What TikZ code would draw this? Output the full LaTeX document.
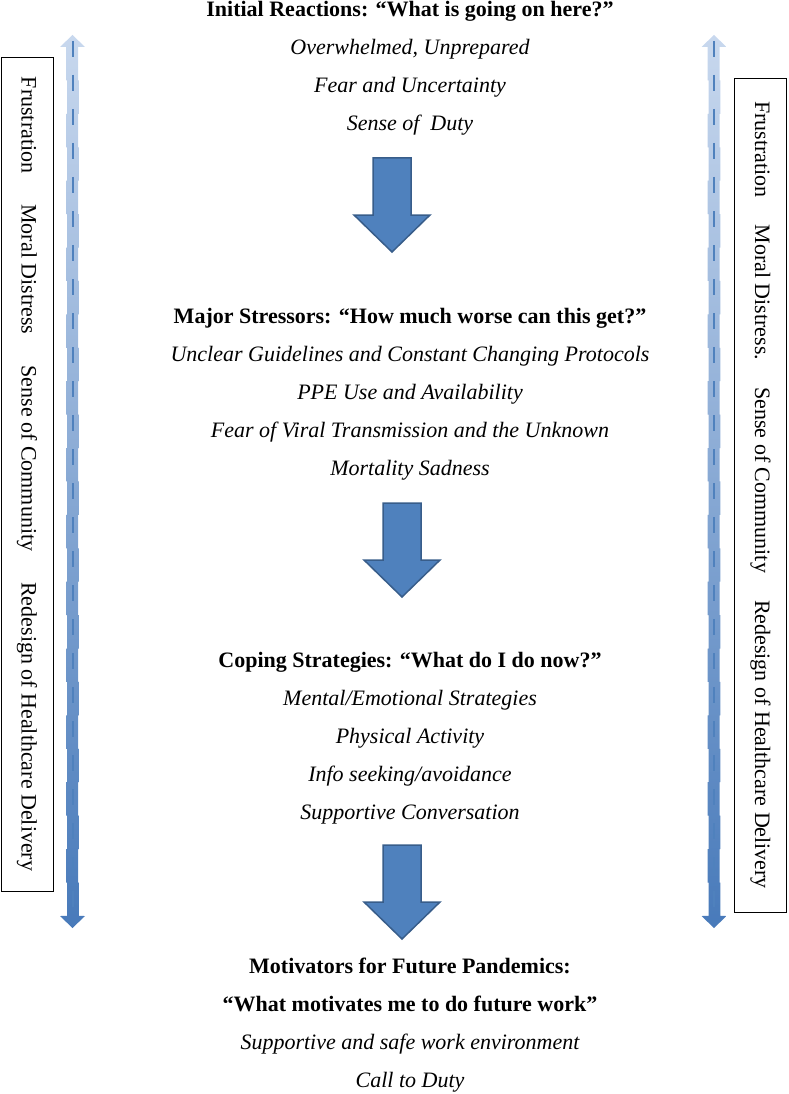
\documentclass[tikz,border=0pt]{standalone}
\usepackage{fontspec}
\setmainfont{Liberation Serif}
\usetikzlibrary{positioning}

\definecolor{arrowfill}{RGB}{79,129,189}
\definecolor{arrowedge}{RGB}{56,93,138}
\definecolor{sidetop}{RGB}{200,216,238}
\definecolor{sidebot}{RGB}{72,122,186}

\begin{document}
\begin{tikzpicture}[x=1pt, y=-1pt,
    heading/.style={font=\fontsize{22}{26}\selectfont\bfseries, anchor=base},
    entry/.style={font=\fontsize{22}{26}\selectfont\itshape, anchor=base},
    sidebox/.style={draw, line width=0.8pt, rotate=-90, minimum width=834pt, minimum height=52pt, inner sep=0pt, font=\fontsize{22}{26}\selectfont},
    downarrow/.style={fill=arrowfill, draw=arrowedge, line width=1.5pt, line join=miter},
    sidearrow/.style={top color=sidetop, bottom color=sidebot},
    sidedash/.style={arrowfill, line width=2pt, dash pattern=on 16pt off 18pt},
]
\useasboundingbox (0,0) rectangle (788,1094);

% === Side arrows (both ways), shaft made of slightly shifted pieces ===
\foreach \sx in {72.5, 714} {
    \shade[sidearrow] (\sx-12.5,47) -- (\sx,35) -- (\sx+12.5,47)
        \foreach \k in {0,...,25} { -- ({\sx+5.5+0.9*mod(\k,2)}, 47+33.42*\k) -- ({\sx+5.5+0.9*mod(\k,2)}, 47+33.42*\k+33.42) }
        -- (\sx+12.5,916) -- (\sx,928) -- (\sx-12.5,916)
        \foreach \k in {25,...,0} { -- ({\sx-5.5-0.9*mod(\k+1,2)}, 47+33.42*\k+33.42) -- ({\sx-5.5-0.9*mod(\k+1,2)}, 47+33.42*\k) }
        -- cycle;
    \draw[sidedash] (\sx,41) -- (\sx,920);
}

% === Side boxes ===
\node[sidebox] (leftbox) at (27,474)
    {Frustration\hspace{31pt}Moral Distress\hspace{31pt}Sense of Community\hspace{31pt}Redesign of Healthcare Delivery};
\node[sidebox] (rightbox) at (760.5,495)
    {Frustration\hspace{27pt}Moral Distress.\hspace{27pt}Sense of Community\hspace{27pt}Redesign of Healthcare Delivery};

% === Initial Reactions ===
\node[heading] (react) at (410,17) {Initial Reactions: “What is going on here?”};
\foreach \txt [count=\i] in {{Overwhelmed, Unprepared}, {Fear and Uncertainty}, {Sense of~ Duty}}
    \node[entry] (react-\i) at (410,17+38*\i) {\txt};

% === Major Stressors ===
\node[heading] (stress) at (410,323) {Major Stressors: “How much worse can this get?”};
\foreach \txt [count=\i] in {{Unclear Guidelines and Constant Changing Protocols}, {PPE Use and Availability},
        {Fear of Viral Transmission and the Unknown}, {Mortality Sadness}}
    \node[entry] (stress-\i) at (410,323+38*\i) {\txt};

% === Coping Strategies ===
\node[heading] (cope) at (410,667) {Coping Strategies: “What do I do now?”};
\foreach \txt [count=\i] in {{Mental/Emotional Strategies}, {Physical Activity}, {Info seeking/avoidance},
        {Supportive Conversation}}
    \node[entry] (cope-\i) at (410,667+38*\i) {\txt};

% === Motivators ===
\node[heading] (motiv) at (410,973) {Motivators for Future Pandemics:};
\node[heading] (motiv-q) at (410,1011) {“What motivates me to do future work”};
\node[entry] (motiv-1) at (410,1049) {Supportive and safe work environment};
\node[entry] (motiv-2) at (410,1087) {Call to Duty};

% === Block arrows between stages ===
\foreach \ax/\ay in {392/158, 402/503, 402/845}
    \draw[downarrow] (\ax-19,\ay) -- ++(38,0) -- ++(0,57) -- ++(19,0) -- ++(-38,37)
        -- ++(-38,-37) -- ++(19,0) -- cycle;

\end{tikzpicture}
\end{document}
